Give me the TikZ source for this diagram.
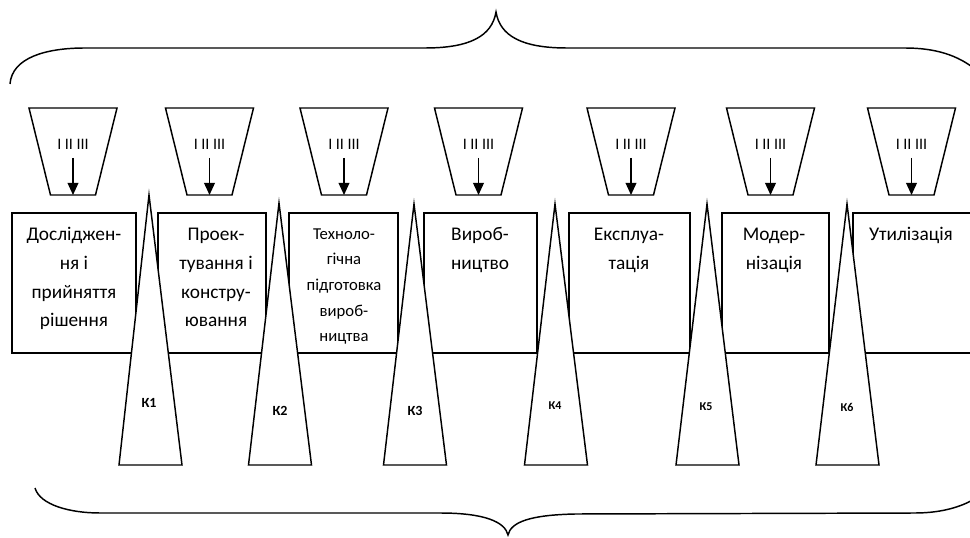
\documentclass[tikz,border=0pt]{standalone}
\usepackage{fontspec}
\setmainfont{Carlito}
\usetikzlibrary{arrows.meta}
% multi-line label whose reference point is the baseline of its first line
\newcommand\stagetext[1]{\begin{tabular}[t]{@{}c@{}}#1\end{tabular}}
\begin{document}
\begin{tikzpicture}[x=0.75pt,y=-0.75pt,line width=1.1pt,
  stagebox/.style={draw,fill=white},
  gate/.style={draw,fill=white,line join=miter},
  funnel/.style={draw,fill=white},
  stagefont/.style={font=\fontsize{14.5}{21.5}\selectfont},
  smallstagefont/.style={font=\fontsize{12.5}{19.3}\selectfont},
  levels/.style={font=\fontsize{12}{14}\selectfont},
  gatelabel/.style={font=\bfseries\fontsize{10.5}{12}\selectfont},
  gatelabelsmall/.style={font=\bfseries\fontsize{9}{11}\selectfont},
  feed/.style={-{Triangle[length=9pt,width=8pt]}}]
\useasboundingbox (0,0) rectangle (970,538);
\clip (0,0) rectangle (970,538);
\fill[white] (0,0) rectangle (970,538);

% upper and lower braces
\draw (10,84) .. controls (12,58) and (45,48) .. (85,48) -- (425,48)
  .. controls (470,48) and (492,36) .. (496,12)
  .. controls (500,36) and (522,48) .. (567,48) -- (905,48)
  .. controls (935,48) and (958,55) .. (976,70);
\draw (35,488) .. controls (40,505) and (70,513) .. (100,513) -- (440,513)
  .. controls (485,513) and (505,522) .. (508,535)
  .. controls (511,522) and (530,515) .. (575,514) -- (915,513)
  .. controls (945,513) and (965,505) .. (976,498);

% life-cycle stage boxes
\draw[stagebox] (12,213) rectangle (136,353) coordinate (s1);
\draw[stagebox] (158,213) rectangle (266,353) coordinate (s2);
\draw[stagebox] (289,213) rectangle (398,353) coordinate (s3);
\draw[stagebox] (424,213) rectangle (537,353) coordinate (s4);
\draw[stagebox] (569,213) rectangle (690,353) coordinate (s5);
\draw[stagebox] (722,213) rectangle (829,353) coordinate (s6);
\draw[stagebox] (853,213) rectangle (990,353) coordinate (s7);

\node[stagefont,anchor=base] (t1) at (74,241) {\stagetext{Дослiджен-\\ня і\\прийняття\\рішення}};
\node[stagefont,anchor=base] (t2) at (216,241) {\stagetext{Проек-\\тування і\\констру-\\ювання}};
\node[smallstagefont,anchor=base] (t3) at (344,239) {\stagetext{Техноло-\\гічна\\підготовка\\вироб-\\ництва}};
\node[stagefont,anchor=base] (t4) at (480,241) {\stagetext{Вироб-\\ництво}};
\node[stagefont,anchor=base] (t5) at (629,241) {\stagetext{Експлуа-\\тація}};
\node[stagefont,anchor=base] (t6) at (774,241) {\stagetext{Модер-\\нізація}};
\node[stagefont,anchor=base] (t7) at (911,241) {\stagetext{Утилізація}};

% control gates between stages
\foreach \n/\ax/\ay/\cx in {1/149/195/150.5, 2/279/203/280, 3/414/204/415,
                            4/555/204/556, 5/707/204/707.5, 6/847/204/847.5}{
  \draw[gate] (\cx-31.5,465) -- (\ax,\ay) -- (\cx+31.5,465) -- cycle;
}
\node[gatelabel] (k1) at (149,403) {К1};
\node[gatelabel] (k2) at (280,411) {К2};
\node[gatelabel] (k3) at (415,411) {К3};
\node[gatelabelsmall] (k4) at (555,406) {К4};
\node[gatelabelsmall] (k5) at (706,407) {К5};
\node[gatelabelsmall] (k6) at (847,407) {К6};

% input funnels above each stage
\foreach \n/\cx in {1/73, 2/209.5, 3/344, 4/478.5, 5/631, 6/770.5, 7/911.5}{
  \draw[funnel] (\cx-44,108) -- (\cx+44,108) -- (\cx+22.5,195) -- (\cx-22.5,195) -- cycle;
  \node[levels] (lv\n) at (\cx,144) {I II III};
  \coordinate (in\n) at (\cx,158);
  \coordinate (out\n) at (\cx,195);
  \draw[feed] (in\n) -- (out\n);
}
\end{tikzpicture}
\end{document}
